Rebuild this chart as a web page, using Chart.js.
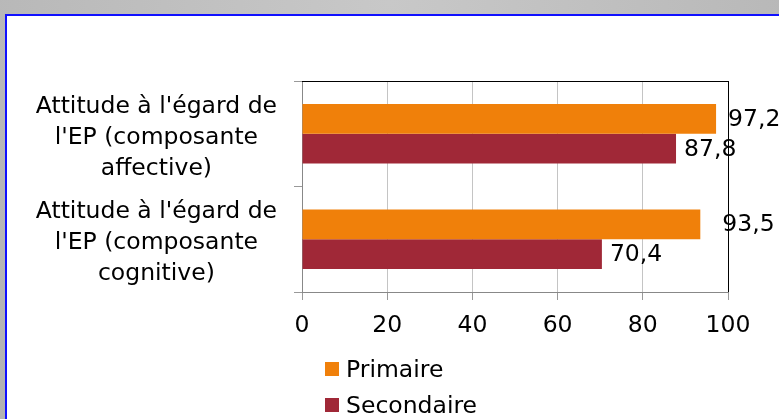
<!DOCTYPE html>
<html>
<head>
<meta charset="utf-8">
<script src="https://cdn.jsdelivr.net/npm/chart.js@4.4.0/dist/chart.umd.min.js"></script>
<style>
  html, body { margin: 0; padding: 0; }
  body {
    width: 779px; height: 419px; overflow: hidden; position: relative;
    background: radial-gradient(ellipse at 50% 0%, #c8c8c8 0%, #b2b2b2 100%);
    font-family: "DejaVu Sans", Verdana, sans-serif;
  }
  #panel {
    position: absolute; left: 5px; top: 14px; width: 800px; height: 430px;
    background: #fff; border-top: 2px solid #1010ff; border-left: 2px solid #1010ff;
  }
  #wrap { position: absolute; left: 0; top: 0; width: 779px; height: 419px; }
  #legend { position: absolute; left: 325px; top: 351px; font-size: 23.5px; color: #000; }
  .item { height: 36px; display: flex; align-items: center; }
  .box { width: 14px; height: 14px; margin-right: 7px; }
</style>
</head>
<body>
<div id="panel"></div>
<div id="wrap"><canvas id="chart" width="779" height="419"></canvas></div>
<div id="legend"></div>
<script>
document.addEventListener("DOMContentLoaded", function () {
    /* ================= DATA ================= */
    const categories = [
        ["Attitude à l'égard de", "l'EP (composante", "affective)"],
        ["Attitude à l'égard de", "l'EP (composante", "cognitive)"]
    ];
    const seriesNames = ['Primaire', 'Secondaire'];
    const primaire = [97.2, 93.5];
    const secondaire = [87.8, 70.4];
    const xTicks = [0, 20, 40, 60, 80, 100];

    const colors = ['#f0800a', '#a02837'];
    const font = 'DejaVu Sans';

    // value labels to the right of each bar
    const valueLabels = {
        id: 'valueLabels',
        afterDatasetsDraw(chart) {
            const ctx = chart.ctx;
            ctx.save();
            ctx.font = '23.5px "' + font + '"';
            ctx.fillStyle = '#000';
            ctx.textAlign = 'left';
            ctx.textBaseline = 'middle';
            chart.data.datasets.forEach((ds, i) => {
                chart.getDatasetMeta(i).data.forEach((bar, j) => {
                    const shift = (i === 0 && j === 1) ? 22 : (i === 0 ? 12 : 8);
                    const txt = ds.data[j].toFixed(1).replace('.', ',');
                    ctx.fillText(txt, bar.x + shift, bar.y + 1);
                });
            });
            ctx.restore();
        }
    };

    // black line along the top of the plot area
    const topBorder = {
        id: 'topBorder',
        afterDraw(chart) {
            const a = chart.chartArea;
            const ctx = chart.ctx;
            ctx.save();
            ctx.strokeStyle = '#000';
            ctx.lineWidth = 1;
            ctx.beginPath();
            ctx.moveTo(a.left, a.top + 0.5);
            ctx.lineTo(a.right, a.top + 0.5);
            ctx.stroke();
            ctx.restore();
        }
    };

    const chart = new Chart(document.getElementById('chart'), {
        type: 'bar',
        data: {
            labels: categories,
            datasets: [
                { label: seriesNames[0], data: primaire, backgroundColor: colors[0] },
                { label: seriesNames[1], data: secondaire, backgroundColor: colors[1] }
            ]
        },
        options: {
            indexAxis: 'y',
            responsive: false,
            animation: false,
            categoryPercentage: 0.566,
            barPercentage: 1,
            layout: { padding: { left: 0, right: 51, top: 81, bottom: 87 } },
            plugins: {
                legend: { display: false },
                tooltip: { enabled: false }
            },
            scales: {
                x: {
                    min: 0,
                    max: 100,
                    afterBuildTicks: s => { s.ticks = xTicks.map(v => ({ value: v })); },
                    afterFit: s => { s.height = 40; },
                    border: { color: '#888', width: 1 },
                    grid: {
                        color: c => c.tick && c.tick.value === 100 ? '#000' : '#c4c4c4',
                        tickColor: '#999',
                        tickLength: 8
                    },
                    ticks: { color: '#000', font: { family: font, size: 23.5 }, padding: 12 }
                },
                y: {
                    afterFit: s => { s.width = 302; },
                    border: { color: '#888', width: 1 },
                    grid: {
                        offset: true,
                        drawOnChartArea: false,
                        tickColor: '#999',
                        tickLength: 8
                    },
                    ticks: {
                        color: '#000',
                        crossAlign: 'center',
                        padding: 17,
                        labelOffset: 4,
                        font: { family: font, size: 23.5, lineHeight: 1.32 }
                    }
                }
            }
        },
        plugins: [valueLabels, topBorder]
    });

    // legend, one series per line
    const legendEl = document.getElementById('legend');
    chart.data.datasets.forEach(ds => {
        const item = document.createElement('div');
        item.className = 'item';
        const box = document.createElement('span');
        box.className = 'box';
        box.style.background = ds.backgroundColor;
        const txt = document.createElement('span');
        txt.textContent = ds.label;
        item.appendChild(box);
        item.appendChild(txt);
        legendEl.appendChild(item);
    });
});
</script>
</body>
</html>
